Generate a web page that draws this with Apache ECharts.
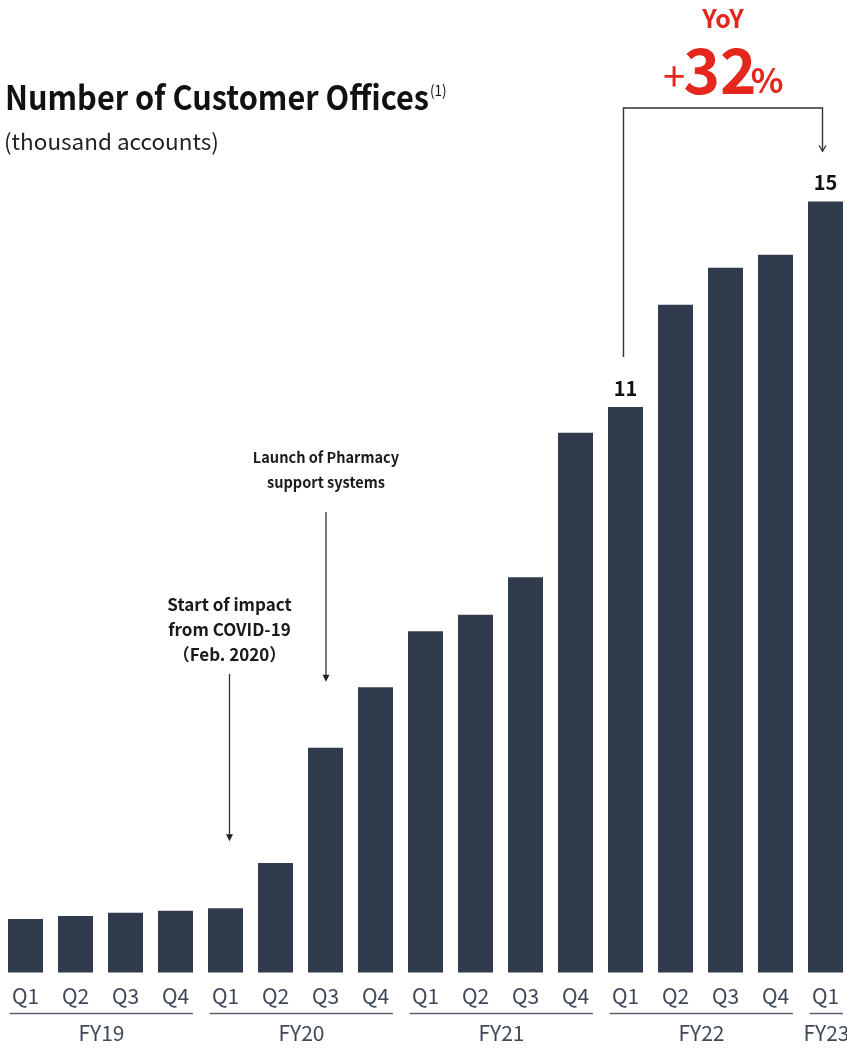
<!DOCTYPE html>
<html>
<head>
<meta charset="utf-8">
<script src="https://cdn.jsdelivr.net/npm/echarts@6/dist/echarts.min.js"></script>
<style>
  html, body { margin: 0; padding: 0; background: #ffffff; }
  #chart { width: 847px; height: 1048px; }
</style>
</head>
<body>
<div id="chart"></div>
<script>
// Quarterly customer offices (thousand accounts), FY19 Q1 – FY23 Q1
const quarters = ['Q1', 'Q2', 'Q3', 'Q4', 'Q1', 'Q2', 'Q3', 'Q4', 'Q1', 'Q2', 'Q3', 'Q4', 'Q1', 'Q2', 'Q3', 'Q4', 'Q1'];
const offices = [1.04, 1.10, 1.16, 1.20, 1.25, 2.13, 4.37, 5.55, 6.64, 6.96, 7.69, 10.50, 11, 12.99, 13.71, 13.96, 15];
const labelledBars = [12, 16];

// Fiscal-year groups: name, first and last quarter index
const fiscalYears = ['FY19', 'FY20', 'FY21', 'FY22', 'FY23'];
const fyFirst = [0, 4, 8, 12, 16];
const fyLast = [3, 7, 11, 15, 16];

const titleText = 'Number of Customer Offices';
const titleNote = '(1)';
const unitText = '(thousand accounts)';
const covidNote = ['Start of impact', 'from COVID-19', '（Feb. 2020）'];
const covidIndex = 4;
const launchNote = ['Launch of Pharmacy', 'support systems'];
const launchIndex = 6;
const yoyLabel = 'YoY';
const yoyValue = ['+', '32', '%'];
const yoyFrom = 12;
const yoyTo = 16;

const FONT = '"Noto Sans CJK JP", "Noto Sans", sans-serif';
const BAR = '#303b4d';
const RED = '#e5261c';
const AXIS_TEXT = '#3e4857';

const chart = echarts.init(document.getElementById('chart'), null, { renderer: 'canvas' });

chart.setOption({
  animation: false,
  backgroundColor: '#ffffff',
  grid: { left: 0.5, width: 850, top: 150, height: 822.5, outerBoundsMode: 'none', containLabel: false },
  xAxis: {
    type: 'category',
    data: quarters,
    axisLine: { show: false },
    axisTick: { show: false },
    axisLabel: { color: AXIS_TEXT, fontSize: 21, fontFamily: FONT, margin: 13, interval: 0 }
  },
  yAxis: { type: 'value', min: 0, max: 16, show: false, splitLine: { show: false } },
  series: [{
    type: 'bar',
    barWidth: 35,
    itemStyle: { color: BAR },
    data: offices.map((v, i) => ({
      value: v,
      label: {
        show: labelledBars.includes(i),
        position: 'top',
        distance: 9,
        formatter: '{c}',
        color: '#111111',
        fontSize: 20,
        fontWeight: 'bold',
        fontFamily: FONT
      }
    }))
  }]
});

function px(i, v) { return chart.convertToPixel({ xAxisIndex: 0, yAxisIndex: 0 }, [i, v]); }

function textEl(text, x, y, font, fill, align, scaleX) {
  return {
    type: 'text', silent: true,
    x: x, y: y, scaleX: scaleX || 1,
    style: { text, x: 0, y: 0, font, fill, align: align || 'center', verticalAlign: 'middle' }
  };
}

function arrowDown(x, yStart, yTip) {
  return [
    { type: 'line', silent: true, shape: { x1: x, y1: yStart, x2: x, y2: yTip - 5 }, style: { stroke: '#333333', lineWidth: 1.3 } },
    { type: 'polygon', silent: true, shape: { points: [[x - 3.5, yTip - 7], [x + 3.5, yTip - 7], [x, yTip]] }, style: { fill: '#222222' } }
  ];
}

const g = [];

// Title and unit
g.push(textEl(titleText, 5, 97, 'bold 33px ' + FONT, '#111111', 'left', 0.93));
g.push(textEl(titleNote, 430, 90, '15px ' + FONT, '#111111', 'left', 0.9));
g.push(textEl(unitText, 4, 141, '22.5px ' + FONT, '#222222', 'left'));

// Fiscal-year underlines and labels
fiscalYears.forEach((fy, k) => {
  const a = px(fyFirst[k], 0), b = px(fyLast[k], 0);
  const x1 = a[0] - 16, x2 = b[0] + 17.5;
  g.push({ type: 'line', silent: true, shape: { x1, y1: 1013.5, x2, y2: 1013.5 }, style: { stroke: '#5a6270', lineWidth: 1.5 } });
  g.push(textEl(fy, (a[0] + b[0]) / 2 + 1, 1033, '21px ' + FONT, AXIS_TEXT));
});

// COVID annotation
{
  const top = px(covidIndex, offices[covidIndex]);
  const x = top[0] + 4;
  const tip = top[1] - 67;
  covidNote.forEach((t, k) => g.push(textEl(t, x, 605 + k * 25, 'bold 17px ' + FONT, '#1a1a1a')));
  g.push(...arrowDown(x, 674, tip));
}

// Pharmacy support launch annotation
{
  const top = px(launchIndex, offices[launchIndex]);
  const x = top[0] + 0.5;
  const tip = top[1] - 66;
  launchNote.forEach((t, k) => g.push(textEl(t, x, 457 + k * 25, 'bold 15px ' + FONT, '#1a1a1a', 'center', 0.97)));
  g.push(...arrowDown(x, 512, tip));
}

// YoY bracket between FY22 Q1 and FY23 Q1
{
  const a = px(yoyFrom, offices[yoyFrom]);
  const b = px(yoyTo, offices[yoyTo]);
  const xl = a[0] - 2, xr = b[0] - 3;
  const yTop = 108;
  const yTip = b[1] - 50;
  g.push({
    type: 'polyline', silent: true,
    shape: { points: [[xl, a[1] - 50], [xl, yTop], [xr, yTop], [xr, yTip]] },
    style: { stroke: '#333333', lineWidth: 1.4, fill: null }
  });
  g.push({
    type: 'polyline', silent: true,
    shape: { points: [[xr - 3.5, yTip - 6], [xr, yTip], [xr + 3.5, yTip - 6]] },
    style: { stroke: '#333333', lineWidth: 1.2, fill: null }
  });
  const cx = (xl + xr) / 2;
  g.push(textEl(yoyLabel, cx, 18, 'bold 25px ' + FONT, RED));
  g.push(textEl(yoyValue[0], 674, 76, '40px ' + FONT, RED));
  g.push(textEl(yoyValue[1], 720, 70, 'bold 62px ' + FONT, RED));
  g.push(textEl(yoyValue[2], 767, 80, 'bold 34px ' + FONT, RED));
}

chart.setOption({ graphic: g });
</script>
</body>
</html>
